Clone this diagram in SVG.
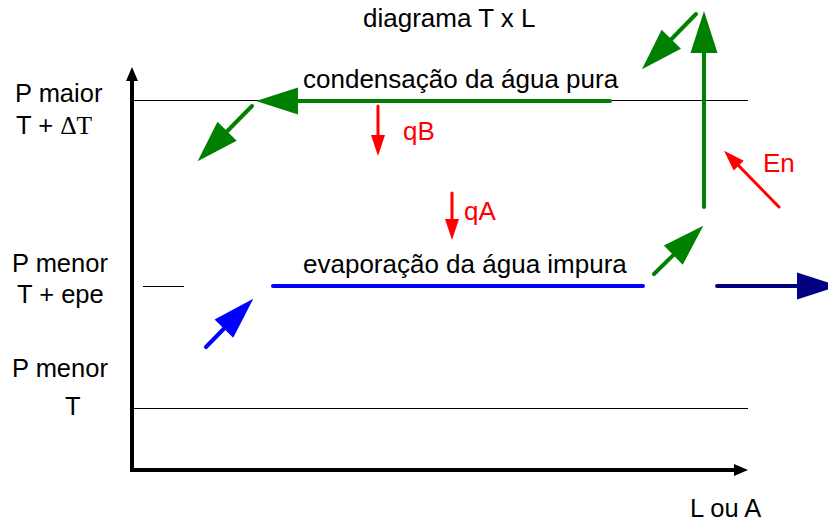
<svg xmlns="http://www.w3.org/2000/svg" width="828" height="522" viewBox="0 0 828 522">
<style>
text{font-family:"Liberation Sans",Arial,sans-serif;font-size:26px;fill:#000}
.lbl{font-size:25.5px}
.red{fill:#ff0000}
.thin{stroke:#000;stroke-width:1;fill:none}
.axis{stroke:#000;stroke-width:4;fill:none;stroke-linejoin:miter}
.g{stroke:#008000;stroke-width:4;stroke-linecap:round;fill:none}
.b{stroke:#0000ff;stroke-width:4;stroke-linecap:round;fill:none}
.n{stroke:#000080;stroke-width:4;stroke-linecap:round;fill:none}
.r{stroke:#ff0000;stroke-width:3;stroke-linecap:round;fill:none}
</style>
<defs>
<marker id="hg" markerUnits="userSpaceOnUse" markerWidth="44" markerHeight="28" viewBox="0 -14 44 28" refX="1" refY="0" orient="auto" overflow="visible"><path d="M0,-13.5 L42,0 L0,13.5 Z" fill="#008000"/></marker>
<marker id="hb" markerUnits="userSpaceOnUse" markerWidth="44" markerHeight="28" viewBox="0 -14 44 28" refX="1" refY="0" orient="auto" overflow="visible"><path d="M0,-13 L42,0 L0,13 Z" fill="#0000ff"/></marker>
<marker id="hn" markerUnits="userSpaceOnUse" markerWidth="44" markerHeight="28" viewBox="0 -14 44 28" refX="1" refY="0" orient="auto" overflow="visible"><path d="M0,-13.5 L42,0 L0,13.5 Z" fill="#000080"/></marker>
<marker id="hr" markerUnits="userSpaceOnUse" markerWidth="24" markerHeight="16" viewBox="0 -8 24 16" refX="1" refY="0" orient="auto" overflow="visible"><path d="M0,-7 L21,0 L0,7 Z" fill="#ff0000"/></marker>
<marker id="hk" markerUnits="userSpaceOnUse" markerWidth="16" markerHeight="14" viewBox="0 -7 16 14" refX="1" refY="0" orient="auto-start-reverse" overflow="visible"><path d="M0,-6 L14,0 L0,6 Z" fill="#000"/></marker>
</defs>

<g id="axes">
<line class="thin" x1="132" y1="100.5" x2="748" y2="100.5"/>
<line class="thin" x1="132" y1="408.5" x2="748" y2="408.5"/>
<line class="thin" x1="143" y1="286.5" x2="184" y2="286.5"/>
<polyline class="axis" points="132,80 132,470 735,470" marker-start="url(#hk)" marker-end="url(#hk)"/>
</g>

<g id="labels">
<text x="363" y="27">diagrama T x L</text>
<text class="lbl" x="15" y="102">P maior</text>
<text class="lbl" x="16" y="134">T + <tspan font-family="'Liberation Serif','Times New Roman',serif">ΔT</tspan></text>
<text class="lbl" x="12" y="272">P menor</text>
<text class="lbl" x="17" y="303">T + epe</text>
<text class="lbl" x="12" y="377">P menor</text>
<text class="lbl" x="65" y="415">T</text>
<text class="lbl" x="690" y="517">L ou A</text>
</g>

<g id="condensacao">
<text x="303" y="88">condensação da água pura</text>
</g>
<g id="evaporacao">
<text x="303" y="273">evaporação da água impura</text>
</g>
<g id="qB"><text class="red" x="403" y="140">qB</text></g>
<g id="qA"><text class="red" x="464" y="220">qA</text></g>
<g id="En"><text class="red" x="763" y="172">En</text></g>

<g id="connectors">
<line class="g" x1="610" y1="101" x2="297" y2="101" marker-end="url(#hg)"/>
<line class="g" x1="252" y1="106" x2="226.4" y2="132" marker-end="url(#hg)"/>
<line class="g" x1="696" y1="14" x2="670.6" y2="40" marker-end="url(#hg)"/>
<line class="g" x1="704" y1="207" x2="704" y2="52" marker-end="url(#hg)"/>
<line class="g" x1="654" y1="274" x2="674" y2="254.4" marker-end="url(#hg)"/>
<line class="b" x1="273" y1="286" x2="643" y2="286"/>
<line class="b" x1="206" y1="347" x2="224.6" y2="328" marker-end="url(#hb)"/>
<line class="n" x1="717" y1="286" x2="798" y2="286" marker-end="url(#hn)"/>
<line class="r" x1="378" y1="106" x2="378" y2="136" marker-end="url(#hr)"/>
<line class="r" x1="452" y1="193" x2="452" y2="220" marker-end="url(#hr)"/>
<line class="r" x1="779" y1="207" x2="738" y2="165" marker-end="url(#hr)"/>
</g>
</svg>
